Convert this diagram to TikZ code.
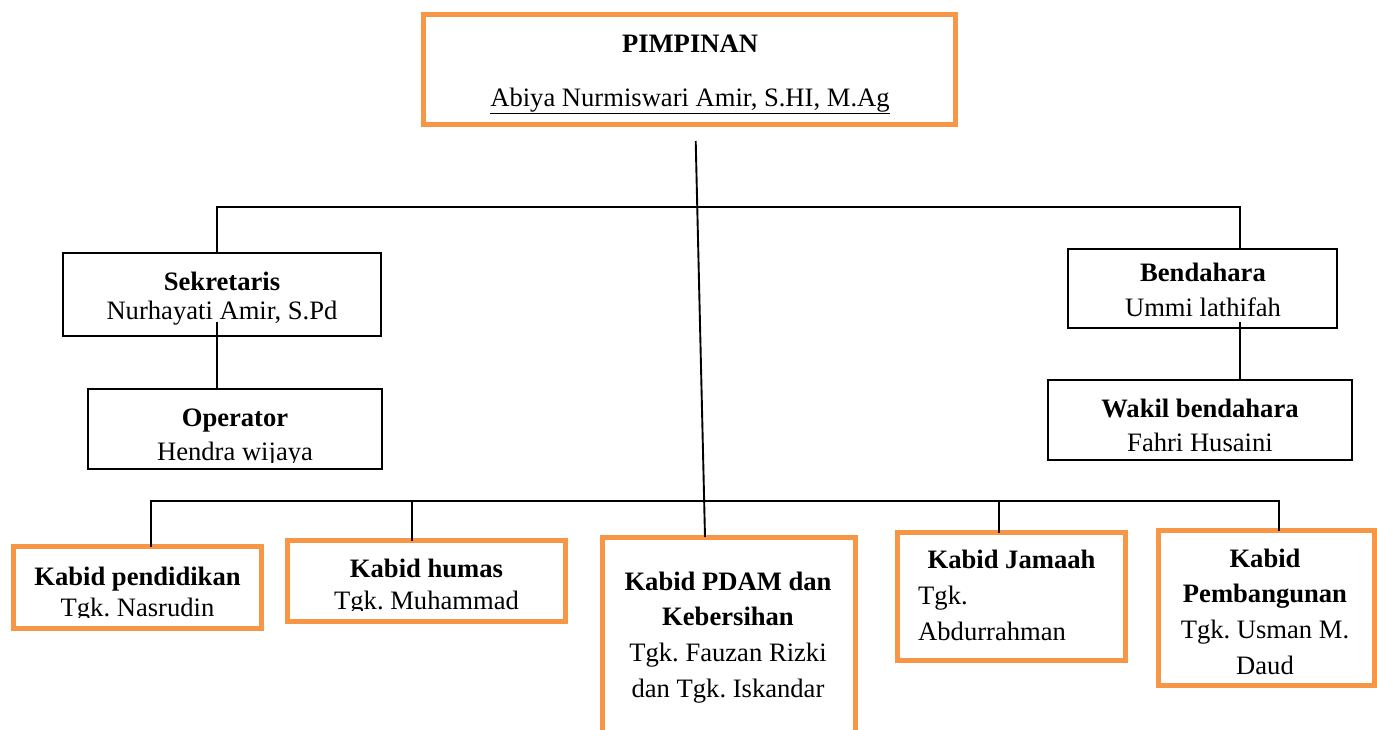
\documentclass[tikz,border=0pt]{standalone}
\usepackage{fontspec}
\setmainfont{Liberation Serif}
\definecolor{org}{HTML}{F79646}
\frenchspacing
\begin{document}
\begin{tikzpicture}[x=1pt,y=-1pt,
  obox/.style={draw=org, line width=5pt, rectangle, inner sep=0pt, outer sep=0pt},
  bbox/.style={draw=black, line width=1.9pt, rectangle, inner sep=0pt, outer sep=0pt},
  txt/.style={anchor=base, inner sep=0pt, font=\fontsize{26.6}{32}\selectfont},
  btxt/.style={anchor=base, inner sep=0pt, font=\fontsize{26.6}{32}\selectfont\bfseries},
  conn/.style={draw=black, line width=1.9pt}]
\useasboundingbox (0,0) rectangle (1377,729);

% boxes
\node[obox, minimum width=532pt, minimum height=110pt] (top) at (689.5,69.5) {};
\node[bbox, minimum width=318pt, minimum height=83pt] (sek) at (222,294.5) {};
\node[bbox, minimum width=294pt, minimum height=80pt] (op) at (235,429) {};
\node[bbox, minimum width=269pt, minimum height=79pt] (ben) at (1202.5,288.5) {};
\node[bbox, minimum width=304pt, minimum height=80pt] (wak) at (1200,420) {};
\node[obox, minimum width=248pt, minimum height=82pt] (pend) at (137.5,587.5) {};
\node[obox, minimum width=278pt, minimum height=81pt] (hum) at (426.5,581) {};
\node[obox, minimum width=253pt, minimum height=220pt] (pdam) at (729,647.5) {};
\node[obox, minimum width=228pt, minimum height=128pt] (jam) at (1011.5,596.5) {};
\node[obox, minimum width=216pt, minimum height=155pt] (pem) at (1266.5,608) {};

% texts
\node[btxt] (topA) at (690,52) {PIMPINAN};
\node[txt] (topB) at (690,106) {\underline{Abiya Nurmiswari Amir, S.HI, M.Ag}};
\node[btxt] (sekA) at (222,290) {Sekretaris};
\node[txt] (sekB) at (222,319) {Nurhayati Amir, S.Pd};
\node[btxt] (opA) at (235,426) {Operator};
\begin{scope}
  \clip (op.north west) rectangle (op.east |- 0,462);
  \node[txt] (opB) at (235,460) {Hendra wijaya};
\end{scope}
\node[btxt] (benA) at (1203,281) {Bendahara};
\node[txt] (benB) at (1203,316) {Ummi lathifah};
\node[btxt] (wakA) at (1200,417) {Wakil bendahara};
\node[txt] (wakB) at (1200,451) {Fahri Husaini};
\node[btxt] (pendA) at (137.5,585) {Kabid pendidikan};
\begin{scope}
  \clip (pend.north west) rectangle (pend.east |- 0,617.5);
  \node[txt] (pendB) at (137.5,616) {Tgk. Nasrudin};
\end{scope}
\node[btxt] (humA) at (426.5,577) {Kabid humas};
\begin{scope}
  \clip (hum.north west) rectangle (hum.east |- 0,610.5);
  \node[txt] (humB) at (426.5,609) {Tgk. Muhammad};
\end{scope}
\node[btxt] (pdamA) at (728,590) {Kabid PDAM dan};
\node[btxt] (pdamB) at (728,625) {Kebersihan};
\node[txt] (pdamC) at (728,661) {Tgk. Fauzan Rizki};
\node[txt] (pdamD) at (728,697) {dan Tgk. Iskandar};
\node[btxt] (jamA) at (1011.5,568) {Kabid Jamaah};
\node[txt, anchor=base west] (jamB) at (918,604) {Tgk.};
\node[txt, anchor=base west] (jamC) at (918,640) {Abdurrahman};
\node[btxt] (pemA) at (1265,567) {Kabid};
\node[btxt] (pemB) at (1265,602) {Pembangunan};
\node[txt] (pemC) at (1265,638) {Tgk. Usman M.};
\node[txt] (pemD) at (1265,674) {Daud};

% connector coordinates
\coordinate (t0) at (695.7,141);
\coordinate (t1) at (705,537);
\coordinate (hl) at (217,207);
\coordinate (hr) at (1240,207);
\coordinate (s1) at (217,322);
\coordinate (b1) at (1240,322);
\coordinate (bl) at (151,501);
\coordinate (br) at (1279,501);

% connectors
\draw[conn] (t0) -- (t1);
\draw[conn] (sek.north -| hl) -- (hl) -- (hr) -- (ben.north -| hr);
\draw[conn] (s1) -- (op.north -| s1);
\draw[conn] (b1) -- (wak.north -| b1);
\draw[conn] (pend.north -| bl) -- (bl) -- (br) -- (pem.north -| br);
\draw[conn] (bl -| 412,0) -- (hum.north -| 412,0);
\draw[conn] (bl -| 999,0) -- (jam.north -| 999,0);
\end{tikzpicture}
\end{document}
